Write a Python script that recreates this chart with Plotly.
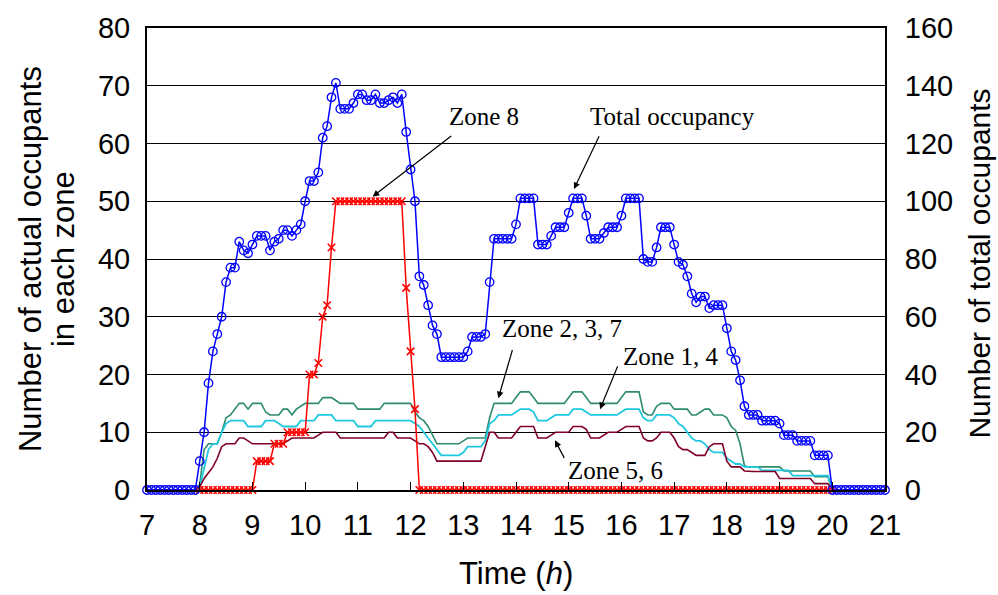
import plotly.graph_objects as go

# ---------------- data (5-minute samples, 7:00 .. 21:00) ----------------
time_h = [7 + i / 12 for i in range(169)]

# Total occupancy (right axis)
total_occ = (
    [0] * 12 +                                                   # 7h
    [10, 20, 37, 48, 54, 60, 72, 77, 77, 86, 83, 82] +           # 8h
    [85, 88, 88, 88, 83, 86, 87, 90, 90, 88, 90, 92] +           # 9h
    [100, 107, 107, 110, 122, 126, 136, 141, 132, 132, 132, 134] +  # 10h
    [137, 137, 135, 135, 137, 134, 134, 135, 136, 134, 137, 124] +  # 11h
    [111, 100, 74, 71, 64, 57, 54, 46, 46, 46, 46, 46] +         # 12h
    [46, 48, 53, 53, 53, 54, 72, 87, 87, 87, 87, 87] +           # 13h
    [92, 101, 101, 101, 101, 85, 85, 85, 88, 91, 91, 91] +       # 14h
    [96, 101, 101, 101, 95, 87, 87, 87, 89, 91, 91, 91] +        # 15h
    [95, 101, 101, 101, 101, 80, 79, 79, 84, 91, 91, 91] +       # 16h
    [85, 79, 78, 74, 68, 65, 67, 67, 63, 64, 64, 64] +           # 17h
    [56, 48, 45, 38, 29, 26, 26, 26, 24, 24, 24, 24] +           # 18h
    [23, 19, 19, 19, 17, 17, 17, 17, 12, 12, 12, 12] +           # 19h
    [0] * 12 +                                                   # 20h
    [0]                                                          # 21h
)

# Zone 8 (left axis)
zone8 = (
    [None] * 12 +
    [0] * 12 +
    [0, 5, 5, 5, 5, 8, 8, 8, 10, 10, 10, 10] +
    [10, 20, 20, 22, 30, 32, 42, 50, 50, 50, 50, 50] +
    [50, 50, 50, 50, 50, 50, 50, 50, 50, 50, 50, 35] +
    [24, 14, 0, 0, 0, 0, 0, 0, 0, 0, 0, 0] +
    [0] * 12 + [0] * 12 + [0] * 12 + [0] * 12 + [0] * 12 + [0] * 12 + [0] * 12 +
    [0] + [None] * 11 +
    [None]
)

# Zone 2, 3, 7
zone237 = (
    [0] * 12 +
    [1, 7, 8, 8, 8, 10, 12.5, 13, 14, 15, 15, 14] +
    [15, 15, 15, 13.5, 13, 13, 13, 14, 14, 13, 14, 14.5] +
    [15, 15, 15, 15, 16, 16, 16, 15.5, 15, 15, 15, 15] +
    [14, 14, 14, 14, 14, 14, 15, 15, 15, 15, 15, 15] +
    [15, 13.5, 12.5, 12, 11, 9.5, 8, 8, 8, 8, 8, 8] +
    [8.5, 9, 9, 9, 9, 9, 12.5, 15, 15, 15, 15, 15] +
    [16, 17, 17, 17, 16, 15, 15, 15, 15, 15, 15, 15] +
    [16, 17, 17, 17, 16, 15, 15, 15, 15, 15, 15, 15] +
    [16, 17, 17, 17, 17, 13.5, 13, 13, 14.5, 15, 15, 15] +
    [14, 14, 14, 14, 13, 13, 13.5, 14, 14, 13, 13, 13] +
    [12.5, 11, 10.3, 8, 4.2, 4, 4, 4, 4, 4, 4, 4] +
    [4, 3.3, 3.3, 3.3, 3.3, 3.3, 3.3, 3.3, 2.3, 2.3, 2.3, 2.3] +
    [0] * 12 +
    [0]
)

# Zone 1, 4
zone14 = (
    [0] * 12 +
    [0.5, 4, 7, 8, 8, 10, 11.5, 12, 12, 12, 12, 11] +
    [11, 11, 11, 12, 12, 12, 11.5, 11, 11, 11, 11, 12] +
    [12, 12, 12, 13, 13, 13, 13, 12, 12, 12, 12, 12] +
    [11, 11, 11, 11, 12, 12, 12, 12, 12, 12, 12, 12] +
    [12, 11.5, 11, 10, 9, 8, 7, 6, 6, 6, 6, 6] +
    [6.5, 7.5, 7.5, 7.5, 7.5, 8.5, 11.5, 12, 13, 13, 13, 13] +
    [13.5, 14, 14, 14, 13.5, 12, 12, 12, 12.5, 13, 13, 13] +
    [13, 14, 14, 14, 13.5, 13, 13, 13, 13, 13, 13, 13] +
    [13.5, 14, 14, 14, 14, 12.5, 12, 12, 13, 13, 13, 13] +
    [12.5, 11.5, 11, 10, 9, 8.5, 8.5, 8, 7, 6.5, 6.5, 6.5] +
    [5.5, 5, 4.5, 4.5, 4, 4, 4, 4, 3.4, 3.4, 3.4, 3.4] +
    [3.4, 3.4, 3.4, 2.5, 2.5, 2.5, 2.5, 2.5, 2.5, 2.5, 2.5, 2.5] +
    [0] * 12 +
    [0]
)

# Zone 5, 6
zone56 = (
    [0] * 12 +
    [0.5, 2, 3, 4, 5.5, 7.5, 8, 8, 8, 9, 9, 8.5] +
    [8, 8, 8, 8, 8, 8, 8, 8, 8.5, 9, 9, 9] +
    [9, 9, 9, 9.5, 10, 10, 10, 10, 9, 9, 9, 9] +
    [9, 9, 9, 9, 9, 9, 9, 10, 10, 9, 9, 9] +
    [9, 8.5, 8, 8, 7.5, 6.5, 5, 5, 5, 5, 5, 5] +
    [5, 5, 5, 5, 5, 7.5, 10, 10, 9, 9, 9, 9] +
    [10, 11, 11, 11, 11, 9, 9, 9, 9.5, 10, 10, 10] +
    [10, 11, 11, 11, 10.5, 9, 9, 9, 9.5, 10, 10, 10] +
    [10.5, 11, 11, 11, 11, 9, 8.5, 8.5, 9, 10, 10, 10] +
    [9, 7.5, 7, 7, 6.5, 6, 6, 6, 7.5, 8, 8, 8] +
    [5, 4, 4, 4, 3.3, 3.2, 3.2, 3.2, 3.2, 3.2, 3.2, 3.2] +
    [2, 2, 2, 2, 2, 2, 2, 2, 1.1, 1.1, 1.1, 1.1] +
    [0] * 12 +
    [0]
)

x_ticks = list(range(7, 22))
left_ticks = list(range(0, 81, 10))
right_ticks = list(range(0, 161, 20))

# ---------------- figure ----------------
SANS = "Liberation Sans, Arial, sans-serif"
SERIF = "Liberation Serif, Times New Roman, serif"
TICK = 29
TITLE = 31

fig = go.Figure()

fig.add_trace(go.Scatter(x=time_h, y=zone237, mode="lines", name="Zone 2, 3, 7",
                         line=dict(color="#2E8B70", width=1.6), yaxis="y"))
fig.add_trace(go.Scatter(x=time_h, y=zone14, mode="lines", name="Zone 1, 4",
                         line=dict(color="#1EC8DE", width=1.8), yaxis="y"))
fig.add_trace(go.Scatter(x=time_h, y=zone56, mode="lines", name="Zone 5, 6",
                         line=dict(color="#800028", width=1.6), yaxis="y"))
fig.add_trace(go.Scatter(x=time_h, y=total_occ, mode="lines+markers", name="Total occupancy",
                         line=dict(color="#0000FF", width=1.5),
                         marker=dict(symbol="circle-open", size=8.5, color="#0000FF",
                                     line=dict(width=1.3, color="#0000FF")),
                         yaxis="y2", cliponaxis=False))
fig.add_trace(go.Scatter(x=time_h, y=zone8, mode="lines+markers", name="Zone 8",
                         line=dict(color="#FF0000", width=1.5),
                         marker=dict(symbol="x-thin", size=7.5, color="#FF0000",
                                     line=dict(width=1.6, color="#FF0000")),
                         yaxis="y", cliponaxis=False, connectgaps=False))

ann_font = dict(family=SERIF, size=25, color="black")
texts = [
    ("Zone 8", 13.39, 64.6),
    ("Total occupancy", 16.96, 64.6),
    ("Zone 2, 3, 7", 14.88, 27.9),
    ("Zone 1, 4", 16.94, 23.1),
    ("Zone 5, 6", 15.89, 3.4),
]
for txt, xx, yy in texts:
    fig.add_annotation(x=xx, y=yy, xref="x", yref="y", text=txt, showarrow=False,
                       font=ann_font)

arrows = [
    # (head x, head y, tail x, tail y)
    (11.28, 50.8, 12.80, 61.5),
    (15.10, 52.1, 15.59, 61.5),
    (13.665, 15.9, 13.94, 24.5),
    (15.594, 14.0, 15.94, 21.7),
    (14.74, 8.6, 14.93, 5.3),
]
for hx, hy, tx, ty in arrows:
    fig.add_annotation(x=hx, y=hy, ax=tx, ay=ty, xref="x", yref="y", axref="x", ayref="y",
                       text="", showarrow=True, arrowhead=2, arrowsize=1.1,
                       arrowwidth=1.2, arrowcolor="black")

# axis titles as annotations (paper coords)
title_font = dict(family=SANS, size=TITLE, color="black")
fig.add_annotation(x=-0.1585, y=0.5, xref="paper", yref="paper", text="Number of actual occupants",
                   textangle=-90, showarrow=False, font=title_font,
                   xanchor="center", yanchor="middle")
fig.add_annotation(x=-0.1138, y=0.5, xref="paper", yref="paper", text="in each zone",
                   textangle=-90, showarrow=False, font=title_font,
                   xanchor="center", yanchor="middle")
fig.add_annotation(x=1.1287, y=0.49, xref="paper", yref="paper", text="Number of total occupants",
                   textangle=-90, showarrow=False, font=dict(family=SANS, size=30, color="black"),
                   xanchor="center", yanchor="middle")
fig.add_annotation(x=0.5, y=-0.1816, xref="paper", yref="paper", text="Time (<i>h</i>)",
                   showarrow=False, font=title_font, xanchor="center", yanchor="middle")

fig.update_layout(
    width=998, height=595,
    margin=dict(l=147, r=113, t=22, b=105),
    paper_bgcolor="white", plot_bgcolor="white",
    showlegend=False,
    font=dict(family=SANS, size=TICK, color="black"),
    xaxis=dict(range=[7, 21], tickvals=x_ticks, ticks="inside", ticklen=8, tickwidth=1,
               tickcolor="black", showline=True, linewidth=2, linecolor="black",
               mirror=True, showgrid=False, zeroline=False, ticklabelstandoff=8,
               tickfont=dict(family=SANS, size=TICK)),
    yaxis=dict(range=[0, 80], tickvals=left_ticks, ticks="inside", ticklen=6,
               tickcolor="black", showline=True, linewidth=2, linecolor="black",
               showgrid=True, gridcolor="black", gridwidth=1, zeroline=False,
               ticklabelstandoff=9, tickfont=dict(family=SANS, size=TICK)),
    yaxis2=dict(range=[0, 160], tickvals=right_ticks, overlaying="y", side="right",
                ticks="inside", ticklen=6, tickcolor="black", showline=True,
                linewidth=2, linecolor="black", showgrid=False, zeroline=False,
                ticklabelstandoff=12, tickfont=dict(family=SANS, size=TICK)),
)

fig.write_html("out.html")
